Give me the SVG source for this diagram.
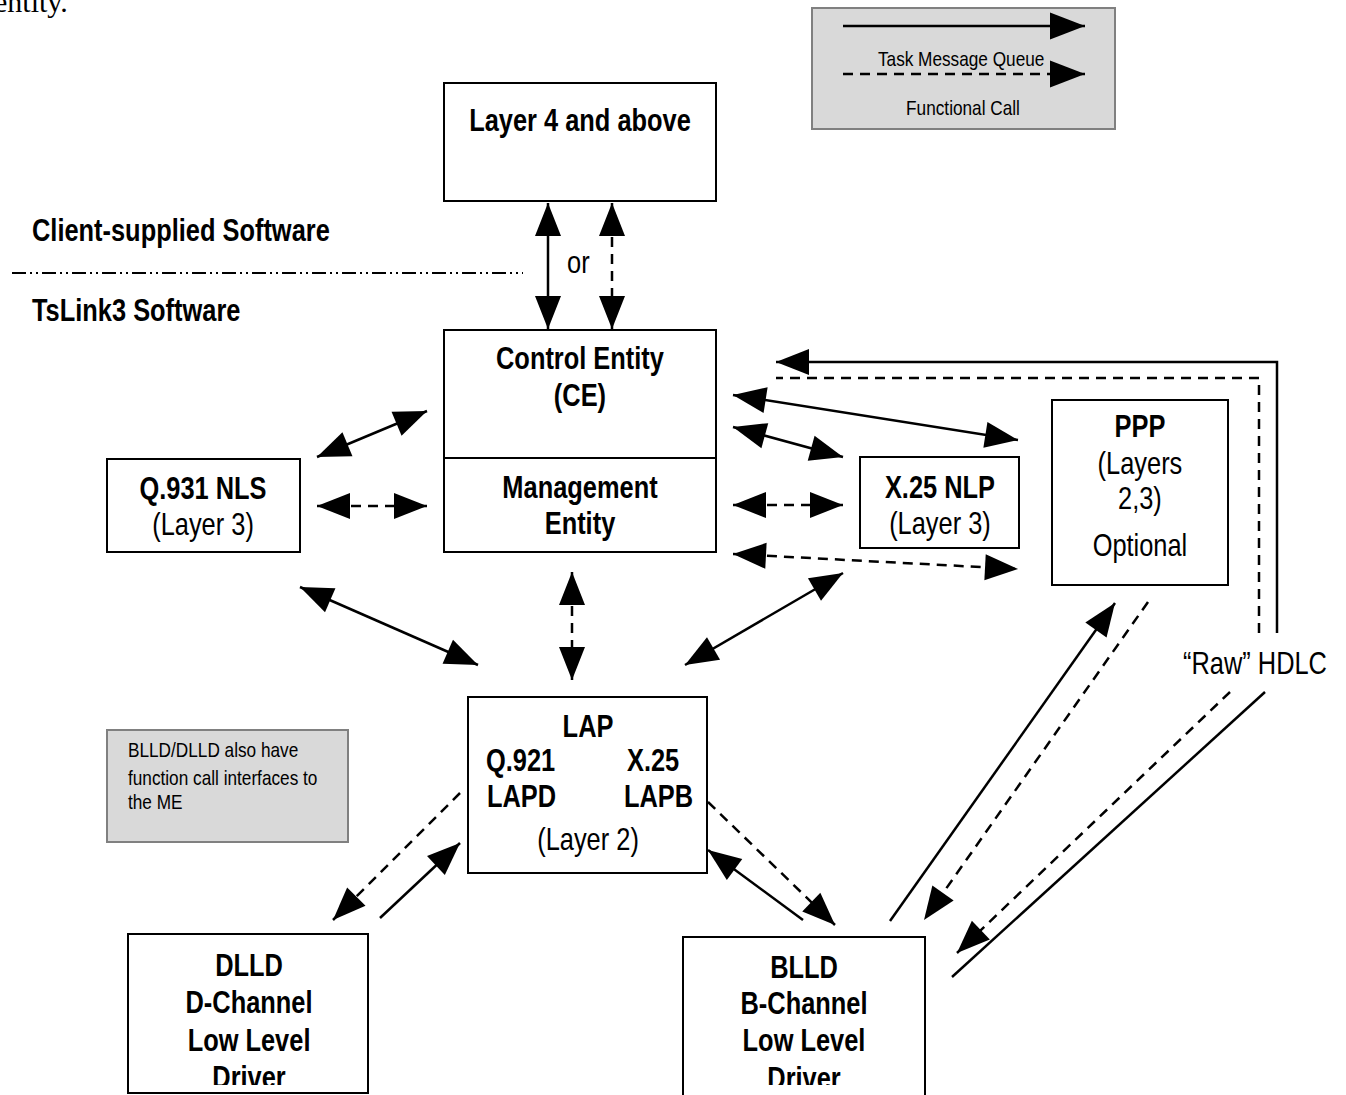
<svg xmlns="http://www.w3.org/2000/svg" width="1346" height="1095" viewBox="0 0 1346 1095">
<style>
text{font-family:"Liberation Sans",Arial,sans-serif;fill:#000}
.b{font-weight:bold;font-size:31px}
.n{font-size:31px}
.s{font-size:21px}
.m{text-anchor:middle}
.box{fill:#fff;stroke:#000;stroke-width:2}
.gbox{fill:#d9d9d9;stroke:#808080;stroke-width:2}
.c{fill:none;stroke:#000;stroke-width:2.5}
.d{fill:none;stroke:#000;stroke-width:2.5;stroke-dasharray:10 7}
</style>
<defs>
<marker id="ah" markerUnits="userSpaceOnUse" markerWidth="33" markerHeight="26" refX="33" refY="13" orient="auto-start-reverse" overflow="visible"><path d="M0,0 L33,13 L0,26 z" fill="#000"/></marker>
<marker id="lh" markerUnits="userSpaceOnUse" markerWidth="35" markerHeight="27" refX="35" refY="13.5" orient="auto" overflow="visible"><path d="M0,0 L35,13.5 L0,27 z" fill="#000"/></marker>
<clipPath id="clipD"><rect x="0" y="0" width="2000" height="1085"/></clipPath>
</defs>
<rect width="1346" height="1095" fill="#fff"/>
<text x="-6" y="12" style="font-family:'Liberation Serif',serif;font-size:30px">entity.</text>

<g id="legend">
<rect class="gbox" x="812" y="8" width="303" height="121"/>
<line class="c" x1="843" y1="26" x2="1085" y2="26" marker-end="url(#lh)"/>
<text class="s" transform="scale(0.82 1)" x="1070.7" y="66">Task Message Queue</text>
<line class="d" x1="843" y1="74" x2="1085" y2="74" marker-end="url(#lh)"/>
<text class="s m" transform="scale(0.82 1)" x="1174.4" y="115">Functional Call</text>
</g>

<g id="layer4">
<rect class="box" x="444" y="83" width="272" height="118"/>
<text class="b m" transform="scale(0.82 1)" x="707.3" y="131">Layer 4 and above</text>
</g>

<g id="boundary">
<text class="b" transform="scale(0.82 1)" x="39" y="241">Client-supplied Software</text>
<line x1="12" y1="273" x2="523" y2="273" stroke="#000" stroke-width="2" stroke-dasharray="14 4 2 4 2 4"/>
<text class="b" transform="scale(0.82 1)" x="39" y="321">TsLink3 Software</text>
</g>

<g id="ce">
<rect class="box" x="444" y="330" width="272" height="222"/>
<line x1="444" y1="458" x2="716" y2="458" stroke="#000" stroke-width="2"/>
<text class="b m" transform="scale(0.82 1)" x="707.3" y="369">Control Entity</text>
<text class="b m" transform="scale(0.82 1)" x="707.3" y="406">(CE)</text>
<text class="b m" transform="scale(0.82 1)" x="707.3" y="498">Management</text>
<text class="b m" transform="scale(0.82 1)" x="707.3" y="534">Entity</text>
</g>

<g id="q931">
<rect class="box" x="107" y="459" width="193" height="93"/>
<text class="b m" transform="scale(0.82 1)" x="247.6" y="499">Q.931 NLS</text>
<text class="n m" transform="scale(0.82 1)" x="247.6" y="535">(Layer 3)</text>
</g>

<g id="x25nlp">
<rect class="box" x="860" y="457" width="159" height="91"/>
<text class="b m" transform="scale(0.82 1)" x="1146.3" y="498">X.25 NLP</text>
<text class="n m" transform="scale(0.82 1)" x="1146.3" y="534">(Layer 3)</text>
</g>

<g id="ppp">
<rect class="box" x="1052" y="400" width="176" height="185"/>
<text class="b m" transform="scale(0.82 1)" x="1390.2" y="437">PPP</text>
<text class="n m" transform="scale(0.82 1)" x="1390.2" y="474">(Layers</text>
<text class="n m" transform="scale(0.82 1)" x="1390.2" y="509">2,3)</text>
<text class="n m" transform="scale(0.82 1)" x="1390.2" y="556">Optional</text>
</g>

<g id="lap">
<rect class="box" x="468" y="697" width="239" height="176"/>
<text class="b m" transform="scale(0.82 1)" x="717.1" y="737">LAP</text>
<text class="b" transform="scale(0.82 1)" x="592.7" y="771">Q.921</text>
<text class="b" transform="scale(0.82 1)" x="764.6" y="771">X.25</text>
<text class="b" transform="scale(0.82 1)" x="593.9" y="807">LAPD</text>
<text class="b" transform="scale(0.82 1)" x="761" y="807">LAPB</text>
<text class="n m" transform="scale(0.82 1)" x="717.1" y="850">(Layer 2)</text>
</g>

<g id="note">
<rect class="gbox" x="107" y="730" width="241" height="112"/>
<text class="s" transform="scale(0.82 1)" x="156.1" y="757">BLLD/DLLD also have</text>
<text class="s" transform="scale(0.82 1)" x="156.1" y="785">function call interfaces to</text>
<text class="s" transform="scale(0.82 1)" x="156.1" y="809">the ME</text>
</g>

<g id="dlld">
<rect class="box" x="128" y="934" width="240" height="159"/>
<text class="b m" transform="scale(0.82 1)" x="303.7" y="976">DLLD</text>
<text class="b m" transform="scale(0.82 1)" x="303.7" y="1013">D-Channel</text>
<text class="b m" transform="scale(0.82 1)" x="303.7" y="1051">Low Level</text>
<text class="b m" transform="scale(0.82 1)" x="303.7" y="1088" clip-path="url(#clipD)">Driver</text>
</g>

<g id="blld">
<rect class="box" x="683" y="937" width="242" height="160"/>
<text class="b m" transform="scale(0.82 1)" x="980.5" y="978">BLLD</text>
<text class="b m" transform="scale(0.82 1)" x="980.5" y="1014">B-Channel</text>
<text class="b m" transform="scale(0.82 1)" x="980.5" y="1051">Low Level</text>
<text class="b m" transform="scale(0.82 1)" x="980.5" y="1089" clip-path="url(#clipD)">Driver</text>
</g>

<g id="labels">
<text class="n" transform="scale(0.82 1)" x="691.5" y="273">or</text>
<text class="n" transform="scale(0.82 1)" x="1442.7" y="674">“Raw” HDLC</text>
</g>

<g id="connectors">
<line class="c" x1="548" y1="203" x2="548" y2="329" marker-start="url(#ah)" marker-end="url(#ah)"/>
<line class="d" x1="612" y1="203" x2="612" y2="329" marker-start="url(#ah)" marker-end="url(#ah)"/>
<line class="c" x1="317" y1="457" x2="427" y2="411" marker-start="url(#ah)" marker-end="url(#ah)"/>
<line class="d" x1="317" y1="506" x2="427" y2="506" marker-start="url(#ah)" marker-end="url(#ah)"/>
<line class="c" x1="733" y1="395" x2="1018" y2="440" marker-start="url(#ah)" marker-end="url(#ah)"/>
<line class="c" x1="733" y1="427" x2="843" y2="457" marker-start="url(#ah)" marker-end="url(#ah)"/>
<line class="d" x1="733" y1="505" x2="843" y2="505" marker-start="url(#ah)" marker-end="url(#ah)"/>
<line class="d" x1="733" y1="554" x2="1018" y2="569" marker-start="url(#ah)" marker-end="url(#ah)"/>
<path class="c" d="M1277,633 L1277,362 L776,362" marker-end="url(#ah)"/>
<path class="d" d="M1259,633 L1259,378 L776,378"/>
<line class="c" x1="1265" y1="692" x2="952" y2="977"/>
<line class="d" x1="1230" y1="692" x2="957" y2="953" marker-end="url(#ah)"/>
<line class="c" x1="300" y1="587" x2="478" y2="665" marker-start="url(#ah)" marker-end="url(#ah)"/>
<line class="d" x1="572" y1="572" x2="572" y2="680" marker-start="url(#ah)" marker-end="url(#ah)"/>
<line class="c" x1="685" y1="665" x2="843" y2="573" marker-start="url(#ah)" marker-end="url(#ah)"/>
<line class="d" x1="460" y1="793" x2="333" y2="920" marker-end="url(#ah)"/>
<line class="c" x1="380" y1="918" x2="460" y2="843" marker-end="url(#ah)"/>
<line class="d" x1="708" y1="802" x2="835" y2="925" marker-end="url(#ah)"/>
<line class="c" x1="803" y1="920" x2="708" y2="850" marker-end="url(#ah)"/>
<line class="c" x1="890" y1="921" x2="1115" y2="603" marker-end="url(#ah)"/>
<line class="d" x1="1148" y1="602" x2="924" y2="920" marker-end="url(#ah)"/>
</g>
</svg>
